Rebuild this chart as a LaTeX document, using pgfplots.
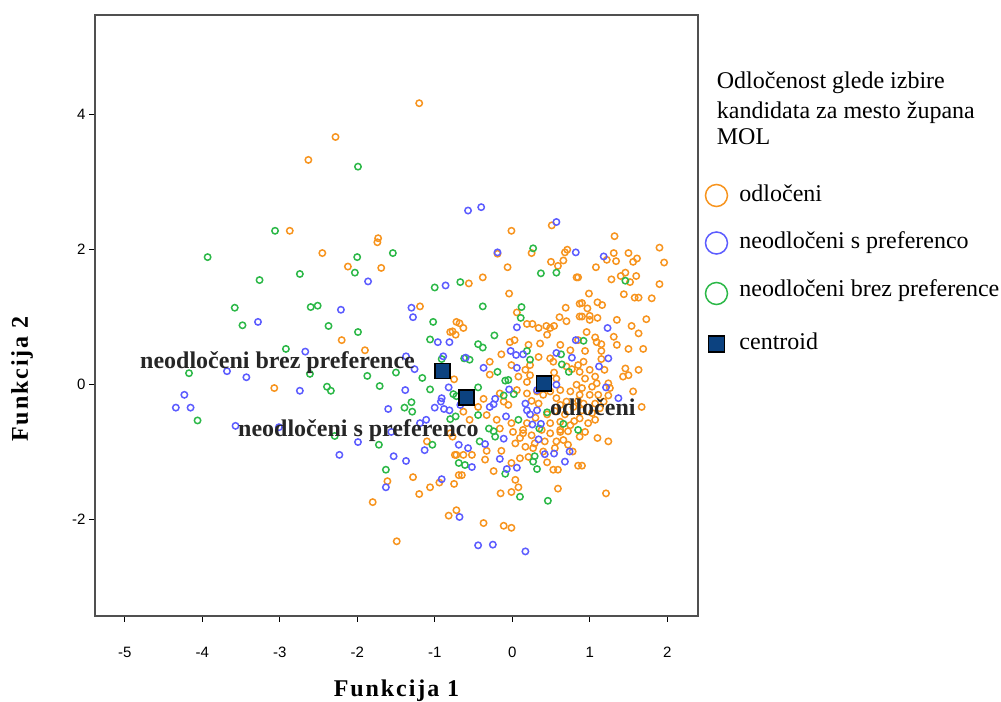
\documentclass[border=0pt]{standalone}
\usepackage{pgfplots}
\usepackage{pgfplotstable}
\pgfplotsset{compat=1.18}
\usepackage{fontspec}
\setmainfont{Liberation Serif}
\newfontfamily\ticksfont{Liberation Sans}
\newfontfamily\titlefont[LetterSpace=8]{Liberation Serif}

\definecolor{odl}{RGB}{247,148,30}
\definecolor{spref}{RGB}{92,92,255}
\definecolor{bpref}{RGB}{44,184,72}
\definecolor{cent}{RGB}{12,66,128}
\definecolor{framegray}{RGB}{80,80,80}
\definecolor{labgray}{RGB}{38,38,38}

% discriminant scores (Funkcija 1, Funkcija 2) per group
\pgfplotstableread{
x y
-2.63 3.32
-2.87 2.27
-1.20 4.16
-2.28 3.66
-1.73 2.16
-1.74 2.10
-2.45 1.94
-2.12 1.74
-1.69 1.72
-1.19 1.15
-0.72 0.92
-2.20 0.65
-0.77 0.78
-0.73 0.73
-1.90 0.50
-0.75 0.07
-3.07 -0.06
-1.10 -0.85
-0.77 -0.78
-0.72 -1.05
-1.28 -1.38
-1.61 -1.44
-0.94 -1.46
-1.06 -1.53
-1.20 -1.63
-0.75 -1.48
-0.69 -1.35
-1.80 -1.75
-0.82 -1.95
-0.72 -1.87
-1.49 -2.33
0.51 2.35
-0.01 2.27
-0.19 1.93
0.25 1.94
0.68 1.95
0.71 1.99
0.50 1.81
0.66 1.83
0.59 1.75
-0.06 1.73
0.83 1.58
-0.38 1.58
-0.56 1.49
-0.04 1.34
0.06 1.06
0.69 1.13
0.61 0.99
0.70 0.93
0.87 1.19
0.87 1.00
-0.68 0.90
0.19 0.89
0.26 0.89
0.44 0.86
0.54 0.86
1.32 2.19
1.31 1.94
1.50 1.94
1.90 2.02
1.22 1.84
1.34 1.82
1.08 1.73
1.61 1.86
1.56 1.81
1.96 1.80
1.46 1.65
1.40 1.60
1.60 1.60
1.28 1.55
1.52 1.51
0.85 1.58
1.90 1.48
0.99 1.34
1.44 1.33
1.58 1.28
1.63 1.28
1.80 1.27
0.90 1.20
1.10 1.21
1.16 1.17
0.97 1.12
0.90 1.00
1.00 1.01
1.10 0.98
1.00 0.95
1.35 0.95
1.73 0.96
1.54 0.86
-0.63 0.83
-0.80 0.77
0.34 0.83
0.45 0.73
0.49 0.83
-0.03 0.62
0.03 0.65
0.21 0.58
0.36 0.60
0.62 0.58
0.75 0.50
-0.14 0.44
0.34 0.40
0.49 0.38
0.53 0.33
-0.29 0.33
-0.01 0.28
0.17 0.21
0.23 0.28
0.70 0.26
0.77 0.22
-0.29 0.14
0.08 0.11
0.23 0.13
0.54 0.17
0.57 0.08
0.19 0.03
0.32 -0.11
0.49 -0.11
0.62 -0.09
0.75 -0.11
0.06 -0.09
-0.16 -0.14
0.19 -0.14
-0.37 -0.22
-0.44 -0.34
-0.11 -0.26
-0.05 -0.31
0.25 -0.25
0.34 -0.29
0.62 -0.31
0.70 -0.26
0.79 -0.34
0.40 -0.16
0.57 -0.21
-0.63 -0.41
-0.55 -0.53
-0.33 -0.46
-0.20 -0.53
-0.01 -0.58
0.19 -0.58
0.49 -0.58
0.62 -0.56
0.75 -0.61
0.62 -0.68
-0.16 -0.66
0.38 -0.68
0.14 -0.68
1.63 0.75
0.96 0.77
0.85 0.65
1.07 0.69
1.09 0.62
1.15 0.59
1.31 0.70
1.35 0.58
1.50 0.52
1.69 0.52
0.94 0.49
1.15 0.49
1.15 0.37
0.92 0.33
0.85 0.28
1.19 0.21
1.46 0.23
1.50 0.13
1.43 0.11
1.63 0.21
0.87 0.18
1.00 0.21
1.07 0.11
0.94 0.08
0.83 -0.01
0.90 -0.06
1.03 -0.04
1.09 0.01
1.24 0.01
1.26 -0.06
1.56 -0.11
0.87 -0.16
1.00 -0.16
1.11 -0.16
1.24 -0.17
0.92 -0.29
1.07 -0.29
1.18 -0.26
0.90 -0.39
1.03 -0.43
1.13 -0.36
1.67 -0.34
0.87 -0.51
0.98 -0.58
1.07 -0.53
0.94 -0.71
-0.80 -0.73
-0.74 -1.05
-0.63 -1.05
-0.52 -1.05
-0.33 -0.99
-0.14 -0.99
0.04 -0.88
0.17 -0.93
0.10 -0.80
0.01 -0.71
0.14 -0.73
0.25 -0.76
0.29 -0.88
0.27 -0.95
0.21 -1.08
0.42 -0.85
0.57 -0.85
0.66 -0.83
0.72 -0.90
0.49 -0.73
0.62 -0.71
-0.35 -1.12
-0.65 -1.35
-0.01 -1.17
0.10 -1.10
0.45 -1.16
0.59 -1.27
0.53 -1.27
0.85 -1.21
-0.24 -1.29
0.04 -1.42
0.08 -1.53
-0.01 -1.60
-0.15 -1.62
0.59 -1.55
-0.37 -2.06
-0.11 -2.10
-0.01 -2.13
0.87 -0.78
1.10 -0.80
1.24 -0.85
0.90 -1.21
1.21 -1.62
0.45 -0.45
0.55 -0.40
0.68 -0.45
0.80 -0.55
0.30 -0.50
0.85 -0.25
0.72 -0.70
0.55 -0.95
0.40 -1.00
0.78 -1.00
}\odloceni

\pgfplotstableread{
x y
-3.28 0.92
-2.67 0.48
-3.68 0.19
-3.43 0.10
-2.74 -0.10
-4.23 -0.16
-4.34 -0.35
-4.15 -0.35
-3.57 -0.62
-3.01 -0.64
-1.86 1.52
-0.86 1.46
-2.21 1.10
-1.30 1.13
-1.28 0.99
-0.96 0.62
-0.81 0.62
-1.37 0.41
-0.89 0.41
-1.26 0.22
-1.38 -0.09
-0.82 -0.05
-1.60 -0.37
-1.00 -0.35
-0.91 -0.21
-0.92 -0.26
-0.88 -0.37
-0.81 -0.39
-1.19 -0.58
-1.11 -0.53
-1.56 -0.71
-1.99 -0.86
-1.13 -0.98
-0.69 -0.90
-2.23 -1.05
-1.53 -1.07
-1.37 -1.14
-1.63 -1.53
-0.91 -1.41
-0.68 -1.97
-0.57 2.57
-0.40 2.62
0.57 2.40
-0.19 1.95
0.82 1.95
0.06 0.84
1.18 1.89
1.23 0.83
0.82 0.65
-0.02 0.49
0.05 0.43
0.14 0.44
0.57 0.46
0.77 0.39
-0.60 0.39
-0.37 0.24
0.06 0.24
0.57 -0.01
0.32 -0.09
-0.04 -0.08
-0.67 -0.31
-0.22 -0.22
-0.24 -0.30
-0.29 -0.34
0.17 -0.29
0.19 -0.39
0.23 -0.45
0.32 -0.39
-0.08 -0.48
0.26 -0.60
0.37 -0.59
1.24 0.38
1.12 0.26
1.21 -0.05
1.37 -0.21
-0.57 -0.95
-0.35 -0.89
-0.11 -0.81
0.34 -0.82
-0.16 -1.11
-0.52 -1.23
0.42 -1.04
0.54 -1.03
0.68 -1.15
0.74 -1.00
-0.07 -1.26
0.06 -1.24
-0.44 -2.39
-0.25 -2.38
0.17 -2.48
}\spreferenco

\pgfplotstableread{
x y
-3.06 2.27
-3.93 1.88
-2.74 1.63
-3.26 1.54
-3.58 1.13
-3.48 0.87
-2.92 0.52
-4.17 0.16
-4.06 -0.54
-1.99 3.22
-2.00 1.88
-1.54 1.94
-2.03 1.65
-1.00 1.43
-0.67 1.51
-2.60 1.14
-2.51 1.16
-1.02 0.92
-2.37 0.86
-1.99 0.77
-1.06 0.66
-0.91 0.37
-2.61 0.15
-1.87 0.12
-1.50 0.17
-1.16 0.09
-2.39 -0.04
-2.34 -0.10
-1.71 -0.03
-1.06 -0.08
-0.76 -0.15
-0.72 -0.18
-1.39 -0.35
-1.30 -0.27
-1.29 -0.41
-0.80 -0.52
-0.73 -0.48
-2.29 -0.77
-1.72 -0.90
-1.03 -0.90
-0.69 -1.17
-1.63 -1.27
0.27 2.01
0.37 1.64
0.57 1.65
-0.38 1.15
0.12 1.14
0.11 0.98
1.46 1.53
-0.23 0.72
-0.44 0.59
-0.38 0.54
0.19 0.49
0.23 0.36
0.63 0.44
-0.62 0.38
-0.55 0.36
-0.19 0.18
0.64 0.29
0.73 0.18
-0.09 0.05
-0.05 0.06
-0.44 -0.05
-0.11 -0.17
0.02 -0.15
0.45 -0.42
-0.44 -0.46
0.08 -0.53
0.66 -0.59
-0.30 -0.66
-0.24 -0.70
0.35 -0.66
0.92 0.64
0.85 -0.68
-0.42 -0.85
-0.22 -0.78
-0.61 -1.20
0.29 -1.07
0.27 -1.15
0.32 -1.26
-0.09 -1.33
0.10 -1.67
0.46 -1.73
}\brezpreference

\begin{document}
\begin{tikzpicture}
\path[use as bounding box] (0,0) rectangle (1001bp,702bp);
\begin{axis}[
  at={(95bp,86bp)}, anchor=south west,
  scale only axis, width=603bp, height=601bp,
  xmin=-5.383, xmax=2.397, ymin=-3.437, ymax=5.467,
  xtick={-5,-4,-3,-2,-1,0,1,2},
  xticklabels={-5,-4,-3,-2,-1,0,1,2},
  ytick={-2,0,2,4},
  yticklabels={-2,0,2,4},
  xtick pos=left, ytick pos=left,
  tick align=outside,
  major tick length=6bp,
  tick style={black, line width=1bp},
  axis line style={framegray, line width=1.3bp},
  tick label style={font=\ticksfont\fontsize{15bp}{18bp}\selectfont, text=black},
  xticklabel style={yshift=-22bp},
  legend cell align=left,
  legend style={draw=none, fill=none, inner sep=0pt, outer sep=0pt,
    at={(1.0124,0.7188)}, anchor=north west,
    column sep=12bp, row sep=24.5bp,
    font=\fontsize{24bp}{28bp}\selectfont,
    nodes={inner sep=0pt, text height=17bp, text depth=6bp}},
  every axis plot/.append style={only marks, line width=1.5bp},
]
\addplot[mark=o, mark size=3.2bp, color=odl, forget plot] table {\odloceni};
\addplot[mark=o, mark size=3.2bp, color=bpref, forget plot] table {\brezpreference};
\addplot[mark=o, mark size=3.2bp, color=spref, forget plot] table {\spreferenco};
% group centroids
\addplot[mark=square*, mark size=7.5bp, mark options={fill=cent, draw=black, line width=1.5bp}, forget plot]
  coordinates {(0.41,0.01) (-0.59,-0.20) (-0.90,0.19)};

\addlegendimage{only marks, mark=o, mark size=11bp, line width=1.5bp, color=odl}
\addlegendentry{odločeni}
\addlegendimage{only marks, mark=o, mark size=11bp, line width=1.5bp, color=spref}
\addlegendentry{neodločeni s preferenco}
\addlegendimage{only marks, mark=o, mark size=11bp, line width=1.5bp, color=bpref}
\addlegendentry[text depth=12bp]{neodločeni brez preference}
\addlegendimage{only marks, mark=square*, mark size=8bp, mark options={fill=cent, draw=black, line width=1.5bp}}
\addlegendentry{centroid}
\end{axis}

% group labels beside the centroids
\begin{scope}[every node/.style={inner sep=0pt, text=labgray, font=\bfseries\fontsize{24bp}{28bp}\selectfont}]
\node[anchor=base west] at (140bp,333bp) {neodločeni brez preference};
\node[anchor=base west] at (238bp,265bp) {neodločeni s preferenco};
\node[anchor=base west] at (550bp,286bp) {odločeni};
\end{scope}

% axis titles
\node[inner sep=0pt, anchor=base, font=\titlefont\bfseries\fontsize{24bp}{28bp}\selectfont] at (396.5bp,6bp) {Funkcija 1};
\node[inner sep=0pt, anchor=center, rotate=90, font=\titlefont\bfseries\fontsize{24bp}{28bp}\selectfont] at (22bp,323bp) {Funkcija 2};

% legend title
\begin{scope}[every node/.style={inner sep=0pt, anchor=base west, font=\fontsize{24bp}{28bp}\selectfont}]
\node at (716.7bp,613bp) {Odločenost glede izbire};
\node at (716.7bp,583.7bp) {kandidata za mesto župana};
\node at (716.7bp,557.7bp) {MOL};
\end{scope}
\end{tikzpicture}
\end{document}
